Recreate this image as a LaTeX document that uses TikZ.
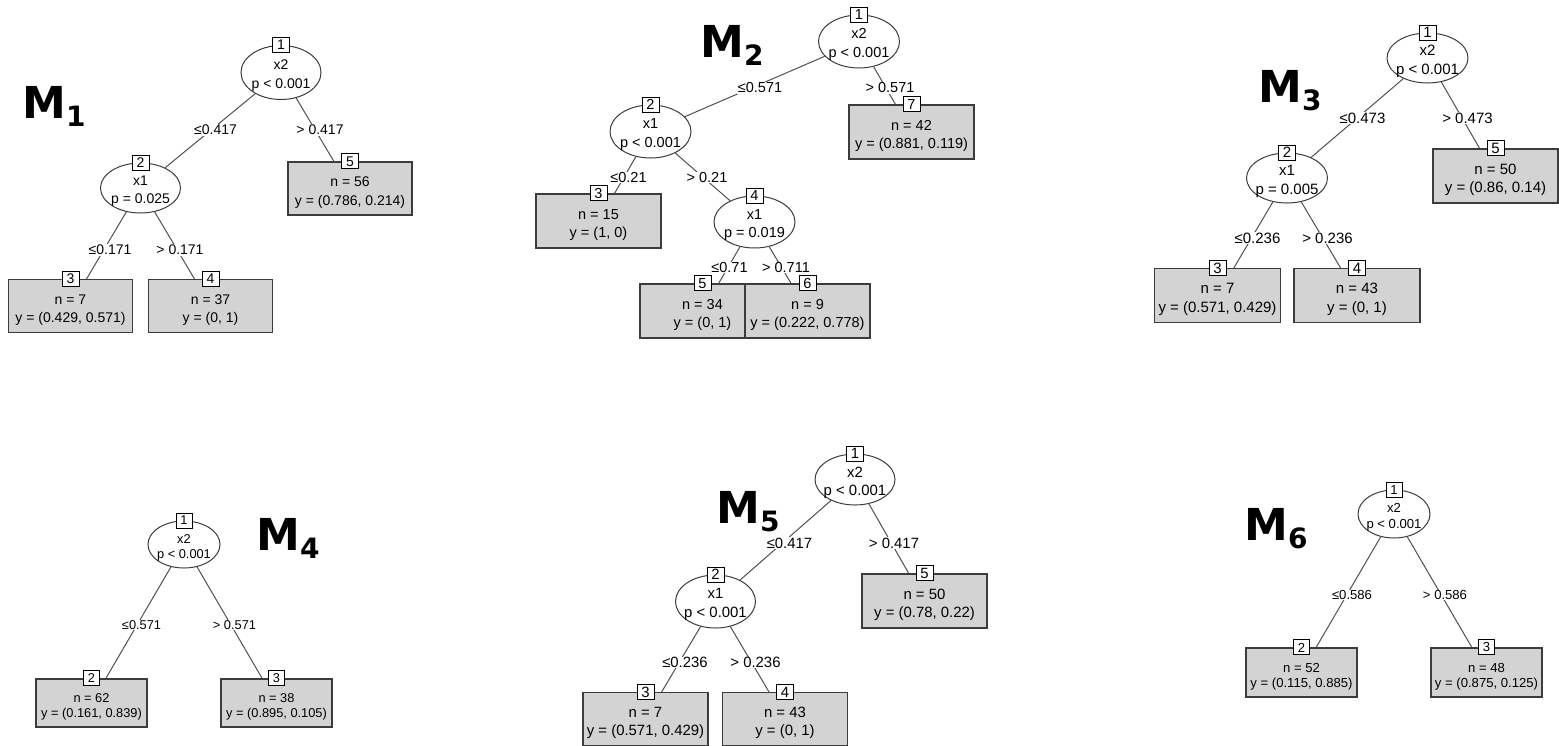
\documentclass[tikz,border=0pt]{standalone}
\usepackage{fontspec}
\setmainfont{Liberation Sans}
\newfontfamily\bigfont{DejaVu Sans}
\usetikzlibrary{shapes.geometric}
\definecolor{leaffill}{RGB}{211,211,211}
\definecolor{linec}{RGB}{80,80,80}
\definecolor{borderc}{RGB}{60,60,60}
\tikzset{
  innernode/.style={ellipse, draw=borderc, line width=0.5pt, fill=white, inner sep=0pt},
  leafnode/.style={rectangle, draw=borderc, line width=0.55pt, fill=leaffill, inner sep=0pt},
  ntext/.style={align=center, inner sep=0pt},
  idbox/.style={rectangle, draw=black, line width=0.5pt, fill=white, inner sep=0pt, minimum width=8.5pt, minimum height=7.5pt},
  edge/.style={draw=linec, line width=0.5pt},
  elabel/.style={fill=white, inner sep=0.3pt},
  bigM/.style={anchor=base west, inner sep=0pt, font=\bigfont\bfseries\fontsize{22pt}{24pt}\selectfont},
  treefont/.style 2 args={font=\fontsize{#1}{#2}\selectfont}
}
\newcommand{\sub}[1]{\raisebox{-4.3pt}{\fontsize{14pt}{15pt}\selectfont #1}}
% inner node: name, position, width, height, line1, line2
\newcommand{\inn}[6]{%
  \node[innernode, minimum width=#3, minimum height=#4] (#1) at (#2) {};
  \node[ntext] (#1t) at ([yshift=-1.6pt]#1.center) {#5\\#6};}
% leaf node: name, position, width, height, line1, line2
\newcommand{\leaf}[6]{%
  \node[leafnode, minimum width=#3, minimum height=#4] (#1) at (#2) {};
  \node[ntext] (#1t) at ([yshift=-2pt]#1.center) {#5\\#6};}
\begin{document}
\begin{tikzpicture}[x=0.5pt,y=-0.5pt]
\useasboundingbox (0,0) rectangle (1559,745);

% ---------------- M1 ----------------
\begin{scope}[treefont={7pt}{9.3pt}]
\inn{a1}{281,72.5}{40pt}{27pt}{x2}{p < 0.001}
\inn{a2}{140.5,188}{40pt}{25pt}{x1}{p = 0.025}
\leaf{a3}{70.5,306}{62pt}{26.5pt}{n = 7}{y = (0.429, 0.571)}
\leaf{a4}{210.5,306}{62pt}{26.5pt}{n = 37}{y = (0, 1)}
\leaf{a5}{350,188.5}{62pt}{26.5pt}{n = 56}{y = (0.786, 0.214)}
\draw[edge] (a1) -- (a2);
\draw[edge] (a1) -- (a5);
\draw[edge] (a2) -- (a3);
\draw[edge] (a2) -- (a4);
\node[idbox] (a1i) at (a1.north) {1};
\node[idbox] (a2i) at (a2.north) {2};
\node[idbox] (a3i) at (a3.north) {3};
\node[idbox] (a4i) at (a4.north) {4};
\node[idbox] (a5i) at (a5.north) {5};
\node[elabel] (a12l) at (215.5,130) {≤0.417};
\node[elabel] (a15l) at (320,130) {> 0.417};
\node[elabel] (a23l) at (110,250) {≤0.171};
\node[elabel] (a24l) at (180,250) {> 0.171};
\end{scope}
\node[bigM] (m1) at (22,118) {M\sub{1}};

% ---------------- M2 ----------------
\begin{scope}[treefont={7.25pt}{9.3pt}]
\inn{b1}{859,41.5}{40.5pt}{26.5pt}{x2}{p < 0.001}
\inn{b2}{650.5,131.5}{40.5pt}{26.5pt}{x1}{p < 0.001}
\leaf{b7}{911.5,132}{62.5pt}{27pt}{n = 42}{y = (0.881, 0.119)}
\leaf{b3}{598.5,221}{62.5pt}{27pt}{n = 15}{y = (1, 0)}
\inn{b4}{754.5,222}{40.5pt}{26pt}{x1}{p = 0.019}
\leaf{b5}{702.5,311}{62.5pt}{27pt}{n = 34}{y = (0, 1)}
\leaf{b6}{807.5,311}{62.5pt}{27pt}{n = 9}{y = (0.222, 0.778)}
\draw[edge] (b1) -- (b2);
\draw[edge] (b1) -- (b7);
\draw[edge] (b2) -- (b3);
\draw[edge] (b2) -- (b4);
\draw[edge] (b4) -- (b5);
\draw[edge] (b4) -- (b6);
\node[idbox] (b1i) at (b1.north) {1};
\node[idbox] (b2i) at (b2.north) {2};
\node[idbox] (b3i) at (b3.north) {3};
\node[idbox] (b4i) at (b4.north) {4};
\node[idbox] (b5i) at (b5.north) {5};
\node[idbox] (b6i) at (b6.north) {6};
\node[idbox] (b7i) at (b7.north) {7};
\node[elabel] (b12l) at (760,88) {≤0.571};
\node[elabel] (b17l) at (890,88) {> 0.571};
\node[elabel] (b23l) at (628.5,177.5) {≤0.21};
\node[elabel] (b24l) at (707,177.5) {> 0.21};
\node[elabel] (b45l) at (729.5,267.5) {≤0.71};
\node[elabel] (b46l) at (786,267.5) {> 0.711};
\end{scope}
\node[bigM] (m2) at (700,57) {M\sub{2}};

% ---------------- M3 ----------------
\begin{scope}[treefont={7.5pt}{9.3pt}]
\inn{c1}{1427.5,58}{40.5pt}{25pt}{x2}{p < 0.001}
\inn{c2}{1287,178}{40.5pt}{25pt}{x1}{p = 0.005}
\leaf{c3}{1217.5,295.5}{63pt}{27pt}{n = 7}{y = (0.571, 0.429)}
\leaf{c4}{1357,295.5}{63pt}{27pt}{n = 43}{y = (0, 1)}
\leaf{c5}{1495.5,176}{62.5pt}{27pt}{n = 50}{y = (0.86, 0.14)}
\draw[edge] (c1) -- (c2);
\draw[edge] (c1) -- (c5);
\draw[edge] (c2) -- (c3);
\draw[edge] (c2) -- (c4);
\node[idbox] (c1i) at (c1.north) {1};
\node[idbox] (c2i) at (c2.north) {2};
\node[idbox] (c3i) at (c3.north) {3};
\node[idbox] (c4i) at (c4.north) {4};
\node[idbox] (c5i) at (c5.north) {5};
\node[elabel] (c12l) at (1362.5,118) {≤0.473};
\node[elabel] (c15l) at (1467.5,118) {> 0.473};
\node[elabel] (c23l) at (1257.5,238) {≤0.236};
\node[elabel] (c24l) at (1327.5,238) {> 0.236};
\end{scope}
\node[bigM] (m3) at (1258,102) {M\sub{3}};

% ---------------- M4 ----------------
\begin{scope}[treefont={6.4pt}{7.6pt}]
\inn{d1}{184,544.5}{36pt}{23.5pt}{x2}{p < 0.001}
\leaf{d2}{91.5,703}{55.5pt}{24pt}{n = 62}{y = (0.161, 0.839)}
\leaf{d3}{276.5,703}{55.5pt}{24pt}{n = 38}{y = (0.895, 0.105)}
\draw[edge] (d1) -- (d2);
\draw[edge] (d1) -- (d3);
\node[idbox, minimum width=8pt] (d1i) at (d1.north) {1};
\node[idbox, minimum width=8pt] (d2i) at (d2.north) {2};
\node[idbox, minimum width=8pt] (d3i) at (d3.north) {3};
\node[elabel] (d12l) at (141.5,625) {≤0.571};
\node[elabel] (d13l) at (234.5,625) {> 0.571};
\end{scope}
\node[bigM] (m4) at (256,550) {M\sub{4}};

% ---------------- M5 ----------------
\begin{scope}[treefont={7.45pt}{9.3pt}]
\inn{e1}{855,479.5}{40pt}{25.5pt}{x2}{p < 0.001}
\inn{e2}{715.5,601.5}{40pt}{26.5pt}{x1}{p < 0.001}
\leaf{e5}{924.5,601}{62.5pt}{27pt}{n = 50}{y = (0.78, 0.22)}
\leaf{e3}{645.5,719}{62.5pt}{26.5pt}{n = 7}{y = (0.571, 0.429)}
\leaf{e4}{785,719}{62.5pt}{26.5pt}{n = 43}{y = (0, 1)}
\draw[edge] (e1) -- (e2);
\draw[edge] (e1) -- (e5);
\draw[edge] (e2) -- (e3);
\draw[edge] (e2) -- (e4);
\node[idbox] (e1i) at (e1.north) {1};
\node[idbox] (e2i) at (e2.north) {2};
\node[idbox] (e3i) at (e3.north) {3};
\node[idbox] (e4i) at (e4.north) {4};
\node[idbox] (e5i) at (e5.north) {5};
\node[elabel] (e12l) at (789.5,543) {≤0.417};
\node[elabel] (e15l) at (894,543) {> 0.417};
\node[elabel] (e23l) at (685,662.5) {≤0.236};
\node[elabel] (e24l) at (755.5,662.5) {> 0.236};
\end{scope}
\node[bigM] (m5) at (716,523) {M\sub{5}};

% ---------------- M6 ----------------
\begin{scope}[treefont={6.55pt}{7.6pt}]
\inn{f1}{1394,514}{36pt}{24pt}{x2}{p < 0.001}
\leaf{f2}{1301.5,672.5}{55.5pt}{24.5pt}{n = 52}{y = (0.115, 0.885)}
\leaf{f3}{1486.5,672.5}{55.5pt}{24.5pt}{n = 48}{y = (0.875, 0.125)}
\draw[edge] (f1) -- (f2);
\draw[edge] (f1) -- (f3);
\node[idbox, minimum width=8pt] (f1i) at (f1.north) {1};
\node[idbox, minimum width=8pt] (f2i) at (f2.north) {2};
\node[idbox, minimum width=8pt] (f3i) at (f3.north) {3};
\node[elabel] (f12l) at (1352,595) {≤0.586};
\node[elabel] (f13l) at (1445,595) {> 0.586};
\end{scope}
\node[bigM] (m6) at (1244,540) {M\sub{6}};
\end{tikzpicture}
\end{document}
